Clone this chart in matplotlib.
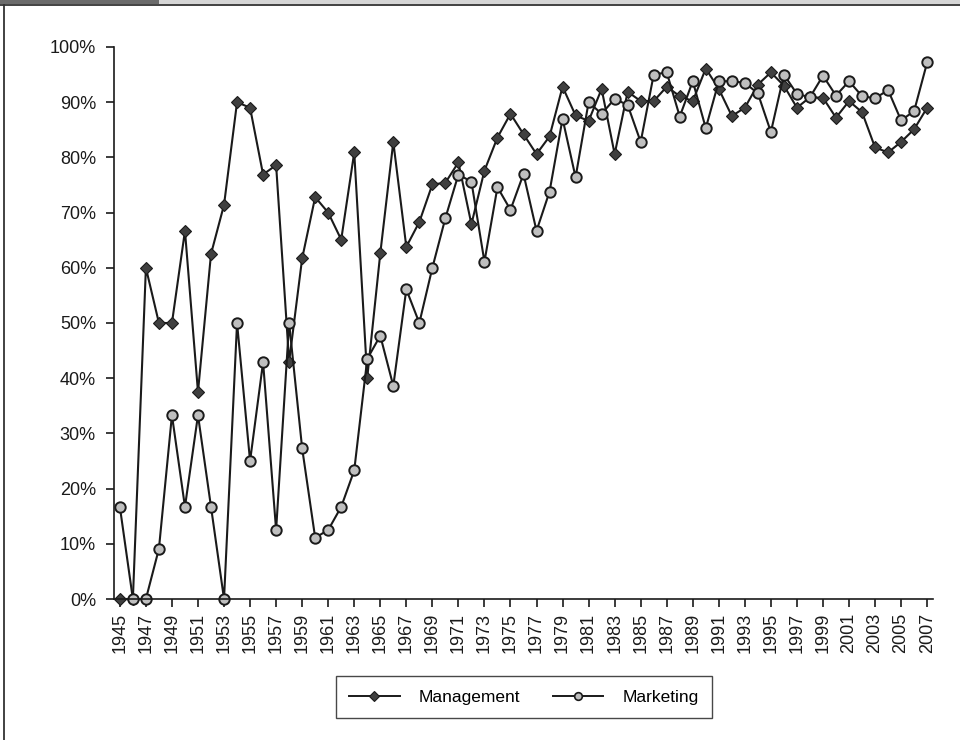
import matplotlib
matplotlib.use('Agg')
import matplotlib.pyplot as plt
from matplotlib.patches import Rectangle
from matplotlib.lines import Line2D
from matplotlib.ticker import PercentFormatter

plt.rcParams['font.family'] = ['Liberation Sans', 'DejaVu Sans']

# share of articles per year (%), 1945-2007
years = list(range(1945, 2008))
management = [
    0, 0, 60, 50, 50, 66.7, 37.5, 62.5, 71.4, 90,
    89, 76.9, 78.6, 43, 61.7, 72.8, 70.0, 65.1, 80.9, 40.1,
    62.6, 82.8, 63.8, 68.3, 75.1, 75.4, 79.1, 67.9, 77.6, 83.6,
    87.9, 84.2, 80.6, 83.8, 92.8, 87.6, 86.6, 92.4, 80.6, 91.9,
    90.2, 90.2, 92.8, 91.1, 90.2, 96.1, 92.4, 87.5, 89.0, 93.2,
    95.4, 93.0, 89.0, 90.9, 90.8, 87.2, 90.2, 88.2, 81.8, 80.9,
    82.8, 85.1, 89.0,
]
marketing = [
    16.7, 0, 0, 9.1, 33.3, 16.7, 33.3, 16.7, 0, 50,
    25, 42.9, 12.5, 50, 27.3, 11.1, 12.5, 16.7, 23.3, 43.5,
    47.7, 38.6, 56.1, 50, 60, 69, 76.9, 75.6, 61.1, 74.6,
    70.5, 77.0, 66.7, 73.8, 87.0, 76.4, 90.0, 87.9, 90.6, 89.5,
    82.8, 95.0, 95.4, 87.4, 93.8, 85.3, 93.8, 93.8, 93.5, 91.6,
    84.6, 95.0, 91.5, 90.9, 94.8, 91.2, 93.8, 91.1, 90.7, 92.2,
    86.7, 88.4, 97.2,
]
tick_years = years[::2]

fig = plt.figure(figsize=(9.6, 7.4), dpi=100)

# page header strip and frame
fig.add_artist(Rectangle((0, 1 - 4 / 740), 1, 4 / 740, transform=fig.transFigure,
                         facecolor='#d6d6d6', edgecolor='none'))
fig.add_artist(Rectangle((0, 1 - 4 / 740), 159 / 960, 4 / 740, transform=fig.transFigure,
                         facecolor='#6b6b6b', edgecolor='none'))
fig.add_artist(Line2D([0, 1], [1 - 5 / 740, 1 - 5 / 740], transform=fig.transFigure,
                      color='#333333', lw=1.3))
fig.add_artist(Line2D([4 / 960, 4 / 960], [0, 1 - 5 / 740], transform=fig.transFigure,
                      color='#333333', lw=1.3))

ax = fig.add_axes([114 / 960, 1 - 599 / 740, (933 - 114) / 960, (599 - 47) / 740])

ax.plot(years, management, color='#1a1a1a', lw=1.5, marker='D', ms=6.5,
        markerfacecolor='#3f3f3f', markeredgecolor='#1a1a1a', markeredgewidth=0.8,
        label='Management', clip_on=False)
ax.plot(years, marketing, color='#1a1a1a', lw=1.5, marker='o', ms=7.5,
        markerfacecolor='#bfbfbf', markeredgecolor='#1a1a1a', markeredgewidth=1.4,
        label='Marketing', clip_on=False)

ax.set_xlim(1944.55, 2007.45)
ax.set_ylim(0, 100)
ax.set_yticks(range(0, 101, 10))
ax.yaxis.set_major_formatter(PercentFormatter(decimals=0))
ax.set_xticks(tick_years)
ax.set_xticklabels([str(y) for y in tick_years], rotation=90)

for s in ['top', 'right']:
    ax.spines[s].set_visible(False)
for s in ['left', 'bottom']:
    ax.spines[s].set_linewidth(1.2)
    ax.spines[s].set_color('#1a1a1a')

ax.tick_params(axis='y', direction='out', length=6, width=1.2, pad=7,
               labelsize=13, color='#1a1a1a', labelcolor='#1a1a1a')
ax.tick_params(axis='x', direction='out', length=6, width=1.2, pad=4,
               labelsize=13, color='#1a1a1a', labelcolor='#1a1a1a')

# legend with smaller markers, like the original
handles = [
    Line2D([], [], color='#1a1a1a', lw=1.4, marker='D', ms=5,
           markerfacecolor='#3f3f3f', markeredgecolor='#1a1a1a', markeredgewidth=0.8),
    Line2D([], [], color='#1a1a1a', lw=1.4, marker='o', ms=5.5,
           markerfacecolor='#bfbfbf', markeredgecolor='#1a1a1a', markeredgewidth=1.2),
]
leg = fig.legend(handles, ['Management', 'Marketing'], loc='center',
                 bbox_to_anchor=(524 / 960, 1 - 697 / 740), ncol=2,
                 fontsize=12.5, frameon=True, fancybox=False, shadow=False,
                 handlelength=2.9, columnspacing=1.9, borderpad=0.75,
                 handletextpad=1.1)
leg.get_frame().set_edgecolor('#1a1a1a')
leg.get_frame().set_linewidth(1.0)

fig.savefig('out.png', dpi=100)
